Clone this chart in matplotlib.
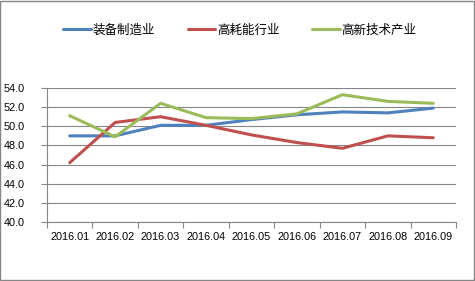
import matplotlib
matplotlib.use("Agg")
import matplotlib.pyplot as plt
from matplotlib.patches import Rectangle

months = ["2016.01", "2016.02", "2016.03", "2016.04", "2016.05",
          "2016.06", "2016.07", "2016.08", "2016.09"]
equipment = [49.0, 49.0, 50.1, 50.1, 50.7, 51.2, 51.5, 51.4, 51.9]
energy = [46.2, 50.4, 51.0, 50.1, 49.1, 48.3, 47.7, 49.0, 48.8]
hitech = [51.1, 48.9, 52.4, 50.9, 50.8, 51.3, 53.3, 52.6, 52.4]
names = ["装备制造业", "高耗能行业", "高新技术产业"]
colors = ["#4F81BD", "#C0504D", "#9BBB59"]

grey = "#868686"

fig = plt.figure(figsize=(4.75, 2.81), dpi=100)
ax = fig.add_axes([47 / 475, 1 - 222 / 281, 409 / 475, 134 / 281])

x = list(range(len(months)))
for vals, name, c in zip([equipment, energy, hitech], names, colors):
    ax.plot(x, vals, color=c, lw=2.2, label=name, solid_capstyle="round")

ax.set_ylim(40, 54)
ax.set_yticks(range(40, 55, 2))
ax.set_yticklabels(["{:.1f}".format(v) for v in range(40, 55, 2)],
                   fontsize=7.8, family="Liberation Sans")
ax.set_xlim(-0.5, len(months) - 0.5)
ax.set_xticks([i - 0.5 for i in range(len(months) + 1)])
ax.set_xticklabels([])
ax.set_xticks(x, minor=True)
ax.set_xticklabels(months, minor=True, fontsize=7.8, family="Liberation Sans")
ax.tick_params(axis="x", which="major", length=4, color=grey, width=0.8)
ax.tick_params(axis="x", which="minor", length=0, pad=7)
ax.tick_params(axis="y", length=4, color=grey, width=0.8, pad=12)

ax.grid(axis="y", color=grey, lw=0.8)
ax.set_axisbelow(True)
for s in ["top", "right"]:
    ax.spines[s].set_visible(False)
for s in ["left", "bottom"]:
    ax.spines[s].set_color(grey)
    ax.spines[s].set_linewidth(0.8)

fig.legend(loc="center", bbox_to_anchor=(0.505, 0.893), ncol=3, frameon=False,
           prop={"family": "Noto Sans CJK SC", "size": 9},
           handlelength=2.2, handletextpad=0.15, columnspacing=2.6)

fig.patches.append(Rectangle((0.001, 0.002), 0.997, 0.996, transform=fig.transFigure,
                             fill=False, edgecolor=grey, lw=1))

fig.savefig("out.png", dpi=100)
